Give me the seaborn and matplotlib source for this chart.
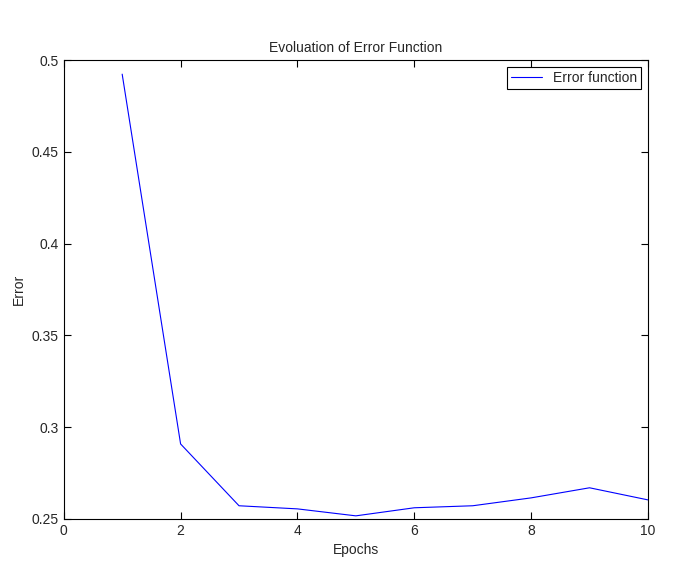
import seaborn as sns
import matplotlib.pyplot as plt
import pandas as pd

epochs = [1, 2, 3, 4, 5, 6, 7, 8, 9, 10]
errors = [0.4924, 0.2908, 0.2571, 0.2554, 0.2516, 0.2560, 0.2571, 0.2614, 0.2669, 0.2603]

df = pd.DataFrame({'Epochs': epochs, 'Error': errors})

sns.set_style('white')
plt.rcParams['font.family'] = ['Liberation Sans', 'DejaVu Sans']

fig, ax = plt.subplots(figsize=(6.93, 5.79), dpi=100)
sns.lineplot(data=df, x='Epochs', y='Error', color='blue', linewidth=0.8,
             label='Error function', ax=ax)
ax.set_xlim(0, 10)
ax.set_ylim(0.25, 0.5)
ax.set_xticks([0, 2, 4, 6, 8, 10])
ax.set_yticks([0.25, 0.3, 0.35, 0.4, 0.45, 0.5])
ax.set_yticklabels(['0.25', '0.3', '0.35', '0.4', '0.45', '0.5'])
ax.tick_params(direction='in', top=True, right=True, bottom=True, left=True,
               labelsize=10, length=5, width=0.8, color='black')
for s in ax.spines.values():
    s.set_color('black')
    s.set_linewidth(0.8)
ax.set_title('Evoluation of Error Function', fontsize=10)
ax.set_xlabel('Epochs', fontsize=10)
ax.set_ylabel('Error', fontsize=10)
leg = ax.legend(loc='upper right', fontsize=10, fancybox=False, framealpha=1,
                handlelength=2.2, borderpad=0.3)
leg.get_frame().set_edgecolor('black')
leg.get_frame().set_linewidth(0.8)

plt.subplots_adjust(left=0.092, right=0.935, top=0.896, bottom=0.104)
plt.savefig('out.png', dpi=100)
